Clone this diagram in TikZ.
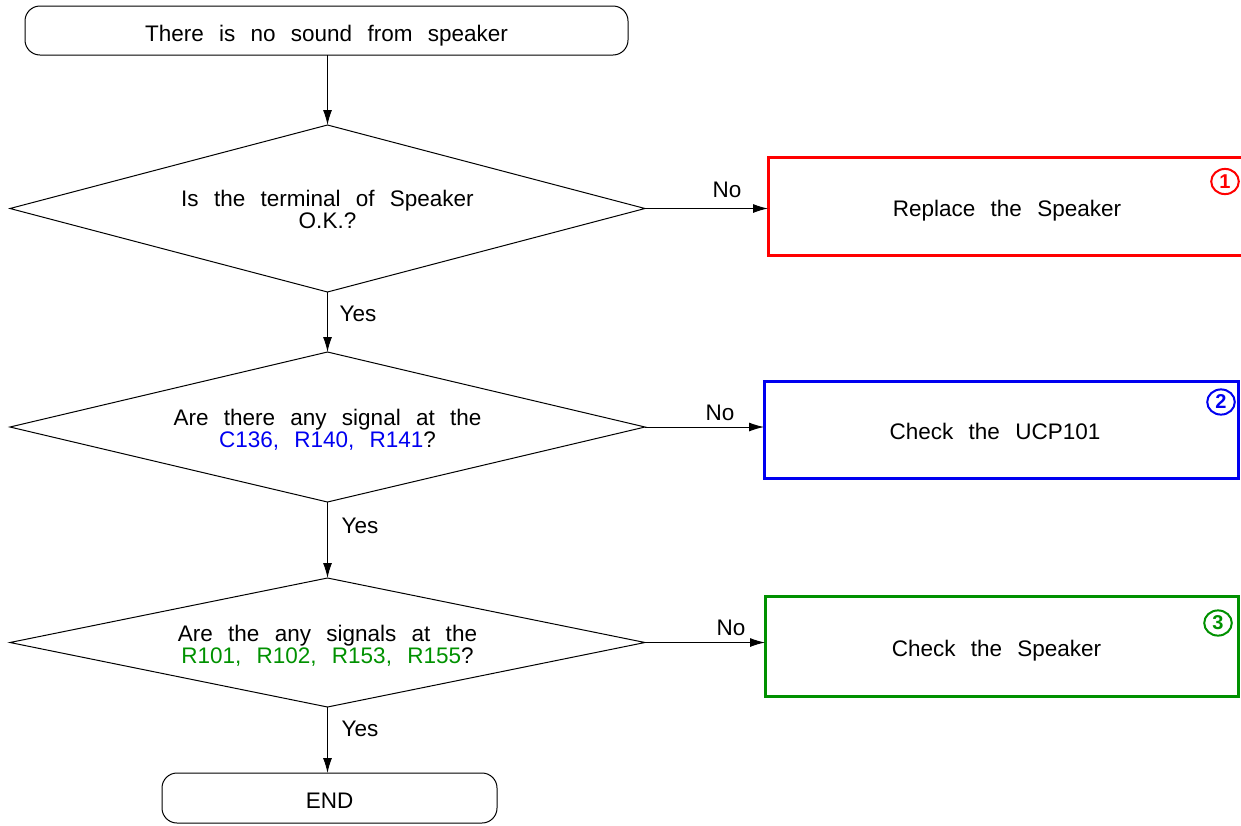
\documentclass[tikz,border=0pt]{standalone}
\usepackage{fontspec}
\setmainfont{Liberation Sans}
\usetikzlibrary{shapes.geometric,arrows.meta}
\definecolor{cred}{RGB}{255,0,0}
\definecolor{cblue}{RGB}{0,0,240}
\definecolor{cgreen}{RGB}{0,145,0}
\newcommand{\diagfont}{\fontsize{11.25}{11}\selectfont\spaceskip=0.68em plus 0.1em minus 0.05em\relax}
\newcommand{\lowr}[2]{\raisebox{-#1}[\height][\depth]{#2}}
\begin{document}
\begin{tikzpicture}[x=0.5pt,y=-0.5pt,
  font=\diagfont,
  every node/.style={inner sep=0pt, outer sep=0pt},
  term/.style={draw, rounded corners=7.5pt, line width=0.5pt, align=center},
  decision/.style={draw, line width=0.5pt, line join=miter},
  dtext/.style={align=center},
  resbox/.style={draw, rectangle, line width=1.5pt, align=center},
  flow/.style={line width=0.5pt, -{Latex[length=7.5pt,width=4.5pt]}},
  lbl/.style={},
  num/.style={draw, ellipse, line width=1pt, minimum width=13.8pt, minimum height=12.6pt, font=\fontsize{10}{10}\selectfont\bfseries}
]
\useasboundingbox (0,0) rectangle (1241,825);
% start
\node[term, minimum width=301.5pt, minimum height=24.5pt] (start) at (326.5,30.5) {\lowr{2.5pt}{There is no sound from speaker}};
% decision 1
\coordinate (d1n) at (327.5,125);
\coordinate (d1s) at (327.5,292);
\coordinate (d1w) at (10,208.5);
\coordinate (d1e) at (645,208.5);
\draw[decision] (d1n) -- (d1e) -- (d1s) -- (d1w) -- cycle;
\node[dtext] (t1) at (327.5,209) {Is the terminal of Speaker\\O.K.?};
% decision 2
\coordinate (d2n) at (327.5,352);
\coordinate (d2s) at (327.5,502);
\coordinate (d2w) at (10,427);
\coordinate (d2e) at (645,427);
\draw[decision] (d2n) -- (d2e) -- (d2s) -- (d2w) -- cycle;
\node[dtext] (t2) at (327.5,430) {Are there any signal at the\\\textcolor{cblue}{C136, R140, R141}?};
% decision 3
\coordinate (d3n) at (327.5,578);
\coordinate (d3s) at (327.5,707);
\coordinate (d3w) at (10,642.5);
\coordinate (d3e) at (645,642.5);
\draw[decision] (d3n) -- (d3e) -- (d3s) -- (d3w) -- cycle;
\node[dtext] (t3) at (327.5,646) {Are the any signals at the\\\textcolor{cgreen}{R101, R102, R153, R155}?};
% end
\node[term, minimum width=167.5pt, minimum height=25pt] (end) at (329.5,798) {\lowr{1.5pt}{END}};
% result boxes
\node[resbox, draw=cred, minimum width=239pt, minimum height=49pt] (r1) at (1007,206) {\lowr{2.5pt}{Replace the Speaker}};
\node[resbox, draw=cblue, minimum width=237pt, minimum height=48.5pt] (r2) at (1001,429.5) {\lowr{1pt}{\hspace*{-6pt}Check the UCP101}};
\node[resbox, draw=cgreen, minimum width=236.5pt, minimum height=50pt] (r3) at (1001.5,646) {\lowr{2.5pt}{\hspace*{-5pt}Check the Speaker}};
% circled numbers
\node[num, draw=cred, text=cred] (n1) at (1225,181.5) {1};
\node[num, draw=cblue, text=cblue] (n2) at (1221,402) {2};
\node[num, draw=cgreen, text=cgreen] (n3) at (1218,623) {3};
% connectors
\draw[flow] (d1n |- start.south) -- (d1n);
\draw[flow] (d1s) -- (d2n);
\draw[flow] (d2s) -- (d3n);
\draw[flow] (d3s) -- (d3s |- end.north);
\draw[flow] (d1e) -- (d1e -| r1.west);
\draw[flow] (d2e) -- (d2e -| r2.west);
\draw[flow] (d3e) -- (d3e -| r3.west);
% labels
\node[lbl] (no1) at (727,190) {No};
\node[lbl] (no2) at (720,413) {No};
\node[lbl] (no3) at (731,628) {No};
\node[lbl] (yes1) at (358,314) {Yes};
\node[lbl] (yes2) at (360,526) {Yes};
\node[lbl] (yes3) at (360,729) {Yes};
\end{tikzpicture}
\end{document}
